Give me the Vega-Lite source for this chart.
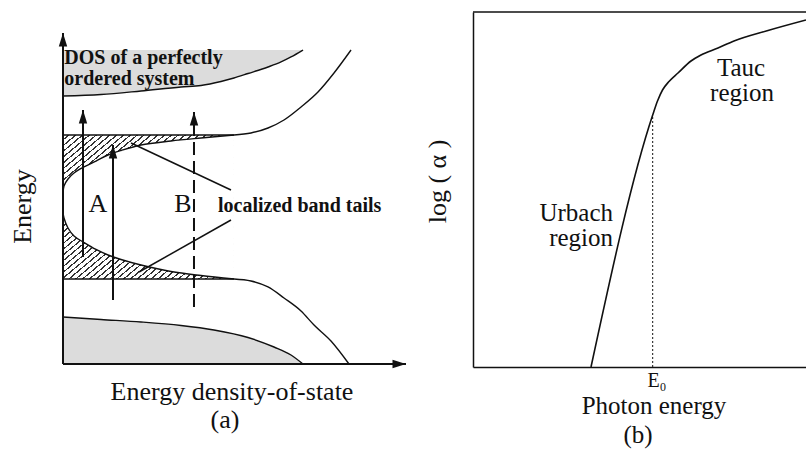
{
  "$schema": "https://vega.github.io/schema/vega-lite/v6.json",
  "padding": {"left": 10, "top": 11, "right": 0, "bottom": 0},
  "background": "#ffffff",
  "bounds": "flush",
  "spacing": 67,
  "config": {"view": {"stroke": null}, "font": "Liberation Serif"},
  "resolve": {"scale": {"x": "independent", "y": "independent"}},
  "datasets": {
    "stipple": [
      {"part": "cb", "x": 0, "y": 76.14, "y2": 89.2},
      {"part": "cb", "x": 11.08, "y": 76.56, "y2": 89.2},
      {"part": "cb", "x": 22.74, "y": 77.56, "y2": 89.2},
      {"part": "cb", "x": 34.4, "y": 78.69, "y2": 89.2},
      {"part": "cb", "x": 40.23, "y": 79.12, "y2": 89.2},
      {"part": "cb", "x": 46.06, "y": 80.26, "y2": 89.2},
      {"part": "cb", "x": 49.85, "y": 81.25, "y2": 89.2},
      {"part": "cb", "x": 53.94, "y": 82.53, "y2": 89.2},
      {"part": "cb", "x": 59.77, "y": 84.38, "y2": 89.2},
      {"part": "cb", "x": 63.56, "y": 85.8, "y2": 89.2},
      {"part": "cb", "x": 66.47, "y": 87.22, "y2": 89.2},
      {"part": "cb", "x": 69.97, "y": 89.2, "y2": 89.2},
      {"part": "vb", "x": 0, "y": 13.35, "y2": 0},
      {"part": "vb", "x": 11.08, "y": 12.64, "y2": 0},
      {"part": "vb", "x": 22.74, "y": 11.93, "y2": 0},
      {"part": "vb", "x": 34.4, "y": 10.94, "y2": 0},
      {"part": "vb", "x": 44.02, "y": 9.66, "y2": 0},
      {"part": "vb", "x": 53.94, "y": 7.53, "y2": 0},
      {"part": "vb", "x": 61.52, "y": 4.83, "y2": 0},
      {"part": "vb", "x": 66.47, "y": 2.56, "y2": 0},
      {"part": "vb", "x": 69.97, "y": 0, "y2": 0}
    ],
    "hatch": [{"x": 0, "x2": 49.85, "y": 24.15, "y2": 65.06}],
    "gap": [
      {"x": 0, "y": 48.01, "y2": 43.18},
      {"x": 0.29, "y": 50.57, "y2": 41.48},
      {"x": 1.46, "y": 52.56, "y2": 38.64},
      {"x": 3.21, "y": 54.26, "y2": 36.36},
      {"x": 6.12, "y": 55.97, "y2": 34.52},
      {"x": 9.62, "y": 57.67, "y2": 32.53},
      {"x": 13.12, "y": 59.38, "y2": 30.97},
      {"x": 16.91, "y": 60.65, "y2": 29.69},
      {"x": 22.74, "y": 62.22, "y2": 28.13},
      {"x": 31.49, "y": 63.35, "y2": 26.28},
      {"x": 40.23, "y": 64.2, "y2": 25.14},
      {"x": 49.85, "y": 65.06, "y2": 24.15}
    ],
    "curves": [
      {"curve": "sTop", "i": 0, "x": 0, "y": 76.14},
      {"curve": "sTop", "i": 1, "x": 11.08, "y": 76.56},
      {"curve": "sTop", "i": 2, "x": 22.74, "y": 77.56},
      {"curve": "sTop", "i": 3, "x": 34.4, "y": 78.69},
      {"curve": "sTop", "i": 4, "x": 40.23, "y": 79.12},
      {"curve": "sTop", "i": 5, "x": 46.06, "y": 80.26},
      {"curve": "sTop", "i": 6, "x": 49.85, "y": 81.25},
      {"curve": "sTop", "i": 7, "x": 53.94, "y": 82.53},
      {"curve": "sTop", "i": 8, "x": 59.77, "y": 84.38},
      {"curve": "sTop", "i": 9, "x": 63.56, "y": 85.8},
      {"curve": "sTop", "i": 10, "x": 66.47, "y": 87.22},
      {"curve": "sTop", "i": 11, "x": 69.97, "y": 89.2},
      {"curve": "sBot", "i": 0, "x": 0, "y": 13.35},
      {"curve": "sBot", "i": 1, "x": 11.08, "y": 12.64},
      {"curve": "sBot", "i": 2, "x": 22.74, "y": 11.93},
      {"curve": "sBot", "i": 3, "x": 34.4, "y": 10.94},
      {"curve": "sBot", "i": 4, "x": 44.02, "y": 9.66},
      {"curve": "sBot", "i": 5, "x": 53.94, "y": 7.53},
      {"curve": "sBot", "i": 6, "x": 61.52, "y": 4.83},
      {"curve": "sBot", "i": 7, "x": 66.47, "y": 2.56},
      {"curve": "sBot", "i": 8, "x": 69.97, "y": 0},
      {"curve": "cb", "i": 0, "x": 49.85, "y": 65.06},
      {"curve": "cb", "i": 1, "x": 54.81, "y": 65.63},
      {"curve": "cb", "i": 2, "x": 59.77, "y": 67.05},
      {"curve": "cb", "i": 3, "x": 64.43, "y": 69.32},
      {"curve": "cb", "i": 4, "x": 69.39, "y": 73.01},
      {"curve": "cb", "i": 5, "x": 74.34, "y": 77.27},
      {"curve": "cb", "i": 6, "x": 79.01, "y": 82.67},
      {"curve": "cb", "i": 7, "x": 83.97, "y": 89.2},
      {"curve": "vb", "i": 0, "x": 49.85, "y": 24.15},
      {"curve": "vb", "i": 1, "x": 54.81, "y": 23.58},
      {"curve": "vb", "i": 2, "x": 59.77, "y": 21.88},
      {"curve": "vb", "i": 3, "x": 64.43, "y": 18.75},
      {"curve": "vb", "i": 4, "x": 69.39, "y": 15.06},
      {"curve": "vb", "i": 5, "x": 73.18, "y": 11.08},
      {"curve": "vb", "i": 6, "x": 78.13, "y": 6.53},
      {"curve": "vb", "i": 7, "x": 83.38, "y": 0},
      {"curve": "tail", "i": 0, "x": 49.85, "y": 65.06},
      {"curve": "tail", "i": 1, "x": 40.23, "y": 64.2},
      {"curve": "tail", "i": 2, "x": 31.49, "y": 63.35},
      {"curve": "tail", "i": 3, "x": 22.74, "y": 62.22},
      {"curve": "tail", "i": 4, "x": 16.91, "y": 60.65},
      {"curve": "tail", "i": 5, "x": 13.12, "y": 59.38},
      {"curve": "tail", "i": 6, "x": 9.62, "y": 57.67},
      {"curve": "tail", "i": 7, "x": 6.12, "y": 55.97},
      {"curve": "tail", "i": 8, "x": 3.21, "y": 54.26},
      {"curve": "tail", "i": 9, "x": 1.46, "y": 52.56},
      {"curve": "tail", "i": 10, "x": 0.29, "y": 50.57},
      {"curve": "tail", "i": 11, "x": 0, "y": 48.01},
      {"curve": "tail", "i": 12, "x": 0, "y": 43.18},
      {"curve": "tail", "i": 13, "x": 0.29, "y": 41.48},
      {"curve": "tail", "i": 14, "x": 1.46, "y": 38.64},
      {"curve": "tail", "i": 15, "x": 3.21, "y": 36.36},
      {"curve": "tail", "i": 16, "x": 6.12, "y": 34.52},
      {"curve": "tail", "i": 17, "x": 9.62, "y": 32.53},
      {"curve": "tail", "i": 18, "x": 13.12, "y": 30.97},
      {"curve": "tail", "i": 19, "x": 16.91, "y": 29.69},
      {"curve": "tail", "i": 20, "x": 22.74, "y": 28.13},
      {"curve": "tail", "i": 21, "x": 31.49, "y": 26.28},
      {"curve": "tail", "i": 22, "x": 40.23, "y": 25.14},
      {"curve": "tail", "i": 23, "x": 49.85, "y": 24.15}
    ],
    "segs": [
      {"kind": "thick", "x": 0, "y": 0, "x2": 0, "y2": 94.03},
      {"kind": "thick", "x": 0, "y": 0, "x2": 100, "y2": 0},
      {"kind": "thick", "x": 5.83, "y": 30.4, "x2": 5.83, "y2": 72.16},
      {"kind": "thick", "x": 14.58, "y": 18.18, "x2": 14.58, "y2": 62.22},
      {"kind": "thin", "x": 0, "y": 65.06, "x2": 49.85, "y2": 65.06},
      {"kind": "thin", "x": 0, "y": 24.15, "x2": 49.85, "y2": 24.15},
      {"kind": "thin", "x": 19.83, "y": 62.78, "x2": 48.98, "y2": 49.43},
      {"kind": "thin", "x": 22.16, "y": 26.14, "x2": 48.98, "y2": 40.91},
      {"kind": "dash", "x": 38.19, "y": 16.19, "x2": 38.19, "y2": 71.59}
    ],
    "headsUp": [
      {"x": 0, "y": 94.03},
      {"x": 5.83, "y": 72.16},
      {"x": 14.58, "y": 62.22},
      {"x": 38.19, "y": 71.59}
    ],
    "headsRight": [{"x": 100, "y": 0}],
    "textA": [
      {"x": 10.2, "y": 43.18, "text": "A"},
      {"x": 34.99, "y": 43.18, "text": "B"},
      {"x": 49.27, "y": -10.23, "text": "Energy density-of-state"},
      {"x": 47.23, "y": -18.18, "text": "(a)"}
    ],
    "textARot": [{"x": -11.52, "y": 44.74, "text": "Energy"}],
    "textABold": [
      {"x": 0.4, "y": 85.09, "text": "DOS of a perfectly"},
      {"x": 0.4, "y": 79.26, "text": "ordered system"},
      {"x": 45.19, "y": 43.18, "text": "localized band tails"}
    ],
    "absorption": [
      {"x": 35.33, "y": 0},
      {"x": 53.8, "y": 70.99},
      {"x": 55.24, "y": 74.93},
      {"x": 56.74, "y": 78.03},
      {"x": 58.68, "y": 80.42},
      {"x": 61.38, "y": 82.82},
      {"x": 65.27, "y": 86.2},
      {"x": 68.26, "y": 87.89},
      {"x": 73.35, "y": 89.86},
      {"x": 78.14, "y": 91.83},
      {"x": 88.32, "y": 94.79},
      {"x": 99.7, "y": 97.75}
    ],
    "e0": [{"x": 53.8, "y": 0, "y2": 70.99}],
    "frameTop": [{"x": 0, "x2": 99.7, "y": 100}],
    "textBCenter": [
      {"x": 80.24, "y": 82.1, "text": "Tauc"},
      {"x": 80.54, "y": 75.0, "text": "region"},
      {"x": 54.19, "y": -13.24, "text": "Photon energy"},
      {"x": 49.4, "y": -21.41, "text": "(b)"}
    ],
    "textBRight": [
      {"x": 41.92, "y": 41.2, "text": "Urbach"},
      {"x": 41.92, "y": 34.2, "text": "region"}
    ],
    "textBE0": [{"x": 55.09, "y": -5.5, "text": "E₀"}],
    "textBRot": [{"x": -10.33, "y": 52.25, "text": "log ( α )"}]
  },
  "hconcat": [
    {
      "width": 343,
      "height": 352,
      "encoding": {
        "x": {"field": "x", "type": "quantitative", "scale": {"domain": [0, 100], "nice": false, "zero": false}, "axis": null},
        "y": {"field": "y", "type": "quantitative", "scale": {"domain": [0, 100], "nice": false, "zero": false}, "axis": null}
      },
      "layer": [
        {
          "data": {"name": "stipple"},
          "mark": {"type": "area", "fill": "#dcdcdc", "interpolate": "monotone"},
          "encoding": {"y2": {"field": "y2"}, "detail": {"field": "part"}}
        },
        {
          "data": {"name": "hatch"},
          "mark": {
            "type": "rect",
            "fill": {
              "gradient": "linear", "x1": 0, "y1": 0, "x2": 1, "y2": 1,
              "stops": [
                {"offset": 0, "color": "#fff"}, {"offset": 0.0145, "color": "#fff"}, {"offset": 0.0145, "color": "#333"}, {"offset": 0.02, "color": "#333"},
                {"offset": 0.02, "color": "#fff"}, {"offset": 0.0345, "color": "#fff"}, {"offset": 0.0345, "color": "#333"}, {"offset": 0.04, "color": "#333"},
                {"offset": 0.04, "color": "#fff"}, {"offset": 0.0545, "color": "#fff"}, {"offset": 0.0545, "color": "#333"}, {"offset": 0.06, "color": "#333"},
                {"offset": 0.06, "color": "#fff"}, {"offset": 0.0745, "color": "#fff"}, {"offset": 0.0745, "color": "#333"}, {"offset": 0.08, "color": "#333"},
                {"offset": 0.08, "color": "#fff"}, {"offset": 0.0945, "color": "#fff"}, {"offset": 0.0945, "color": "#333"}, {"offset": 0.1, "color": "#333"},
                {"offset": 0.1, "color": "#fff"}, {"offset": 0.1145, "color": "#fff"}, {"offset": 0.1145, "color": "#333"}, {"offset": 0.12, "color": "#333"},
                {"offset": 0.12, "color": "#fff"}, {"offset": 0.1345, "color": "#fff"}, {"offset": 0.1345, "color": "#333"}, {"offset": 0.14, "color": "#333"},
                {"offset": 0.14, "color": "#fff"}, {"offset": 0.1545, "color": "#fff"}, {"offset": 0.1545, "color": "#333"}, {"offset": 0.16, "color": "#333"},
                {"offset": 0.16, "color": "#fff"}, {"offset": 0.1745, "color": "#fff"}, {"offset": 0.1745, "color": "#333"}, {"offset": 0.18, "color": "#333"},
                {"offset": 0.18, "color": "#fff"}, {"offset": 0.1945, "color": "#fff"}, {"offset": 0.1945, "color": "#333"}, {"offset": 0.2, "color": "#333"},
                {"offset": 0.2, "color": "#fff"}, {"offset": 0.2145, "color": "#fff"}, {"offset": 0.2145, "color": "#333"}, {"offset": 0.22, "color": "#333"},
                {"offset": 0.22, "color": "#fff"}, {"offset": 0.2345, "color": "#fff"}, {"offset": 0.2345, "color": "#333"}, {"offset": 0.24, "color": "#333"},
                {"offset": 0.24, "color": "#fff"}, {"offset": 0.2545, "color": "#fff"}, {"offset": 0.2545, "color": "#333"}, {"offset": 0.26, "color": "#333"},
                {"offset": 0.26, "color": "#fff"}, {"offset": 0.2745, "color": "#fff"}, {"offset": 0.2745, "color": "#333"}, {"offset": 0.28, "color": "#333"},
                {"offset": 0.28, "color": "#fff"}, {"offset": 0.2945, "color": "#fff"}, {"offset": 0.2945, "color": "#333"}, {"offset": 0.3, "color": "#333"},
                {"offset": 0.3, "color": "#fff"}, {"offset": 0.3145, "color": "#fff"}, {"offset": 0.3145, "color": "#333"}, {"offset": 0.32, "color": "#333"},
                {"offset": 0.32, "color": "#fff"}, {"offset": 0.3345, "color": "#fff"}, {"offset": 0.3345, "color": "#333"}, {"offset": 0.34, "color": "#333"},
                {"offset": 0.34, "color": "#fff"}, {"offset": 0.3545, "color": "#fff"}, {"offset": 0.3545, "color": "#333"}, {"offset": 0.36, "color": "#333"},
                {"offset": 0.36, "color": "#fff"}, {"offset": 0.3745, "color": "#fff"}, {"offset": 0.3745, "color": "#333"}, {"offset": 0.38, "color": "#333"},
                {"offset": 0.38, "color": "#fff"}, {"offset": 0.3945, "color": "#fff"}, {"offset": 0.3945, "color": "#333"}, {"offset": 0.4, "color": "#333"},
                {"offset": 0.4, "color": "#fff"}, {"offset": 0.4145, "color": "#fff"}, {"offset": 0.4145, "color": "#333"}, {"offset": 0.42, "color": "#333"},
                {"offset": 0.42, "color": "#fff"}, {"offset": 0.4345, "color": "#fff"}, {"offset": 0.4345, "color": "#333"}, {"offset": 0.44, "color": "#333"},
                {"offset": 0.44, "color": "#fff"}, {"offset": 0.4545, "color": "#fff"}, {"offset": 0.4545, "color": "#333"}, {"offset": 0.46, "color": "#333"},
                {"offset": 0.46, "color": "#fff"}, {"offset": 0.4745, "color": "#fff"}, {"offset": 0.4745, "color": "#333"}, {"offset": 0.48, "color": "#333"},
                {"offset": 0.48, "color": "#fff"}, {"offset": 0.4945, "color": "#fff"}, {"offset": 0.4945, "color": "#333"}, {"offset": 0.5, "color": "#333"},
                {"offset": 0.5, "color": "#fff"}, {"offset": 0.5145, "color": "#fff"}, {"offset": 0.5145, "color": "#333"}, {"offset": 0.52, "color": "#333"},
                {"offset": 0.52, "color": "#fff"}, {"offset": 0.5345, "color": "#fff"}, {"offset": 0.5345, "color": "#333"}, {"offset": 0.54, "color": "#333"},
                {"offset": 0.54, "color": "#fff"}, {"offset": 0.5545, "color": "#fff"}, {"offset": 0.5545, "color": "#333"}, {"offset": 0.56, "color": "#333"},
                {"offset": 0.56, "color": "#fff"}, {"offset": 0.5745, "color": "#fff"}, {"offset": 0.5745, "color": "#333"}, {"offset": 0.58, "color": "#333"},
                {"offset": 0.58, "color": "#fff"}, {"offset": 0.5945, "color": "#fff"}, {"offset": 0.5945, "color": "#333"}, {"offset": 0.6, "color": "#333"},
                {"offset": 0.6, "color": "#fff"}, {"offset": 0.6145, "color": "#fff"}, {"offset": 0.6145, "color": "#333"}, {"offset": 0.62, "color": "#333"},
                {"offset": 0.62, "color": "#fff"}, {"offset": 0.6345, "color": "#fff"}, {"offset": 0.6345, "color": "#333"}, {"offset": 0.64, "color": "#333"},
                {"offset": 0.64, "color": "#fff"}, {"offset": 0.6545, "color": "#fff"}, {"offset": 0.6545, "color": "#333"}, {"offset": 0.66, "color": "#333"},
                {"offset": 0.66, "color": "#fff"}, {"offset": 0.6745, "color": "#fff"}, {"offset": 0.6745, "color": "#333"}, {"offset": 0.68, "color": "#333"},
                {"offset": 0.68, "color": "#fff"}, {"offset": 0.6945, "color": "#fff"}, {"offset": 0.6945, "color": "#333"}, {"offset": 0.7, "color": "#333"},
                {"offset": 0.7, "color": "#fff"}, {"offset": 0.7145, "color": "#fff"}, {"offset": 0.7145, "color": "#333"}, {"offset": 0.72, "color": "#333"},
                {"offset": 0.72, "color": "#fff"}, {"offset": 0.7345, "color": "#fff"}, {"offset": 0.7345, "color": "#333"}, {"offset": 0.74, "color": "#333"},
                {"offset": 0.74, "color": "#fff"}, {"offset": 0.7545, "color": "#fff"}, {"offset": 0.7545, "color": "#333"}, {"offset": 0.76, "color": "#333"},
                {"offset": 0.76, "color": "#fff"}, {"offset": 0.7745, "color": "#fff"}, {"offset": 0.7745, "color": "#333"}, {"offset": 0.78, "color": "#333"},
                {"offset": 0.78, "color": "#fff"}, {"offset": 0.7945, "color": "#fff"}, {"offset": 0.7945, "color": "#333"}, {"offset": 0.8, "color": "#333"},
                {"offset": 0.8, "color": "#fff"}, {"offset": 0.8145, "color": "#fff"}, {"offset": 0.8145, "color": "#333"}, {"offset": 0.82, "color": "#333"},
                {"offset": 0.82, "color": "#fff"}, {"offset": 0.8345, "color": "#fff"}, {"offset": 0.8345, "color": "#333"}, {"offset": 0.84, "color": "#333"},
                {"offset": 0.84, "color": "#fff"}, {"offset": 0.8545, "color": "#fff"}, {"offset": 0.8545, "color": "#333"}, {"offset": 0.86, "color": "#333"},
                {"offset": 0.86, "color": "#fff"}, {"offset": 0.8745, "color": "#fff"}, {"offset": 0.8745, "color": "#333"}, {"offset": 0.88, "color": "#333"},
                {"offset": 0.88, "color": "#fff"}, {"offset": 0.8945, "color": "#fff"}, {"offset": 0.8945, "color": "#333"}, {"offset": 0.9, "color": "#333"},
                {"offset": 0.9, "color": "#fff"}, {"offset": 0.9145, "color": "#fff"}, {"offset": 0.9145, "color": "#333"}, {"offset": 0.92, "color": "#333"},
                {"offset": 0.92, "color": "#fff"}, {"offset": 0.9345, "color": "#fff"}, {"offset": 0.9345, "color": "#333"}, {"offset": 0.94, "color": "#333"},
                {"offset": 0.94, "color": "#fff"}, {"offset": 0.9545, "color": "#fff"}, {"offset": 0.9545, "color": "#333"}, {"offset": 0.96, "color": "#333"},
                {"offset": 0.96, "color": "#fff"}, {"offset": 0.9745, "color": "#fff"}, {"offset": 0.9745, "color": "#333"}, {"offset": 0.98, "color": "#333"},
                {"offset": 0.98, "color": "#fff"}, {"offset": 0.9945, "color": "#fff"}, {"offset": 0.9945, "color": "#333"}, {"offset": 1, "color": "#333"}
              ]
            }
          },
          "encoding": {"x2": {"field": "x2"}, "y2": {"field": "y2"}}
        },
        {
          "data": {"name": "gap"},
          "mark": {"type": "area", "fill": "#ffffff", "interpolate": "catmull-rom"},
          "encoding": {"y2": {"field": "y2"}}
        },
        {
          "data": {"name": "curves"},
          "transform": [{"filter": "datum.curve !== 'tail'"}],
          "mark": {"type": "line", "stroke": "#111", "strokeWidth": 1.4, "interpolate": "monotone"},
          "encoding": {"detail": {"field": "curve"}, "order": {"field": "i", "type": "quantitative"}}
        },
        {
          "data": {"name": "curves"},
          "transform": [{"filter": "datum.curve === 'tail'"}],
          "mark": {"type": "line", "stroke": "#111", "strokeWidth": 1.4, "interpolate": "catmull-rom"},
          "encoding": {"order": {"field": "i", "type": "quantitative"}}
        },
        {
          "data": {"name": "segs"},
          "transform": [{"filter": "datum.kind === 'thick'"}],
          "mark": {"type": "rule", "stroke": "#111", "strokeWidth": 2},
          "encoding": {"x2": {"field": "x2"}, "y2": {"field": "y2"}}
        },
        {
          "data": {"name": "segs"},
          "transform": [{"filter": "datum.kind === 'thin'"}],
          "mark": {"type": "rule", "stroke": "#111", "strokeWidth": 1.5},
          "encoding": {"x2": {"field": "x2"}, "y2": {"field": "y2"}}
        },
        {
          "data": {"name": "segs"},
          "transform": [{"filter": "datum.kind === 'dash'"}],
          "mark": {"type": "rule", "stroke": "#111", "strokeWidth": 2, "strokeDash": [13, 6]},
          "encoding": {"x2": {"field": "x2"}, "y2": {"field": "y2"}}
        },
        {
          "data": {"name": "headsUp"},
          "mark": {"type": "point", "shape": "M0,0L0.42,1.35L-0.42,1.35Z", "size": 400, "filled": true, "color": "#111", "opacity": 1, "strokeWidth": 0}
        },
        {
          "data": {"name": "headsRight"},
          "mark": {"type": "point", "shape": "M0,0L0.42,1.35L-0.42,1.35Z", "size": 400, "angle": 90, "filled": true, "color": "#111", "opacity": 1, "strokeWidth": 0}
        },
        {
          "data": {"name": "textA"},
          "mark": {"type": "text", "font": "Liberation Serif", "fontSize": 26, "align": "center", "baseline": "alphabetic", "color": "#111"},
          "encoding": {"text": {"field": "text"}}
        },
        {
          "data": {"name": "textARot"},
          "mark": {"type": "text", "font": "Liberation Serif", "fontSize": 26, "align": "center", "baseline": "middle", "angle": 270, "color": "#111"},
          "encoding": {"text": {"field": "text"}}
        },
        {
          "data": {"name": "textABold"},
          "mark": {"type": "text", "font": "Liberation Serif", "fontSize": 20, "fontWeight": "bold", "align": "left", "baseline": "alphabetic", "color": "#111"},
          "encoding": {"text": {"field": "text"}}
        }
      ]
    },
    {
      "width": 333,
      "height": 355,
      "encoding": {
        "x": {"field": "x", "type": "quantitative", "scale": {"domain": [0, 99.7], "nice": false, "zero": false},
              "axis": {"domain": true, "domainColor": "#111", "domainWidth": 1.5, "ticks": false, "labels": false, "grid": false, "title": null}},
        "y": {"field": "y", "type": "quantitative", "scale": {"domain": [0, 100], "nice": false, "zero": false},
              "axis": {"domain": true, "domainColor": "#111", "domainWidth": 1.5, "ticks": false, "labels": false, "grid": false, "title": null}}
      },
      "layer": [
        {
          "data": {"name": "e0"},
          "mark": {"type": "rule", "stroke": "#111", "strokeWidth": 1, "strokeDash": [2, 2]},
          "encoding": {"y2": {"field": "y2"}}
        },
        {
          "data": {"name": "frameTop"},
          "mark": {"type": "rule", "stroke": "#111", "strokeWidth": 1.5},
          "encoding": {"x2": {"field": "x2"}}
        },
        {
          "data": {"name": "absorption"},
          "mark": {"type": "line", "stroke": "#111", "strokeWidth": 1.6, "interpolate": "monotone"}
        },
        {
          "data": {"name": "textBCenter"},
          "mark": {"type": "text", "font": "Liberation Serif", "fontSize": 25, "align": "center", "baseline": "alphabetic", "color": "#111"},
          "encoding": {"text": {"field": "text"}}
        },
        {
          "data": {"name": "textBRight"},
          "mark": {"type": "text", "font": "Liberation Serif", "fontSize": 25, "align": "right", "baseline": "alphabetic", "color": "#111"},
          "encoding": {"text": {"field": "text"}}
        },
        {
          "data": {"name": "textBE0"},
          "mark": {"type": "text", "font": "Liberation Serif", "fontSize": 20, "align": "center", "baseline": "alphabetic", "color": "#111"},
          "encoding": {"text": {"field": "text"}}
        },
        {
          "data": {"name": "textBRot"},
          "mark": {"type": "text", "font": "Liberation Serif", "fontSize": 26, "align": "center", "baseline": "middle", "angle": 270, "color": "#111"},
          "encoding": {"text": {"field": "text"}}
        }
      ]
    }
  ]
}
